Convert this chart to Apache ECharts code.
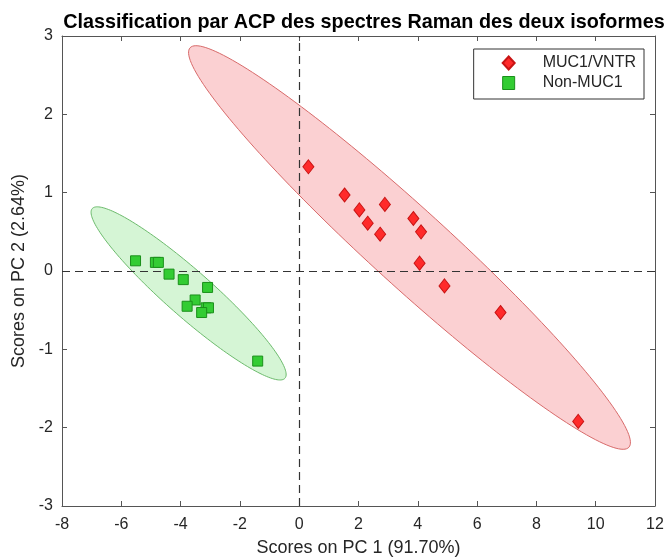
<!DOCTYPE html>
<html><head><meta charset="utf-8">
<script src="https://cdn.jsdelivr.net/npm/echarts@6/dist/echarts.min.js"></script>
<style>html,body{margin:0;padding:0;background:#fff}#c{width:670px;height:557px}</style>
</head><body><div id="c"></div>
<script>
// Data
const mucPoints = [
  [0.31,1.33],[1.53,0.97],[2.03,0.78],[2.89,0.85],[2.31,0.61],[2.73,0.47],
  [3.85,0.67],[4.11,0.50],[4.06,0.10],[4.90,-0.19],[6.79,-0.53],[9.41,-1.92]
];
const nonMucPoints = [
  [-5.52,0.13],[-4.85,0.11],[-4.75,0.11],[-4.39,-0.04],[-3.91,-0.11],[-3.09,-0.21],
  [-3.51,-0.37],[-3.78,-0.45],[-3.14,-0.47],[-3.06,-0.47],[-3.29,-0.53],[-1.40,-1.15]
];
// confidence ellipses: center, major semi-axis vector, minor semi-axis vector (data units)
const mucEllipseCenter = [3.72, 0.30];
const mucEllipseMajor = [7.40, -2.55];
const mucEllipseMinor = [-0.876, -0.366];
const nonMucEllipseCenter = [-3.73, -0.286];
const nonMucEllipseMajor = [3.25, -1.083];
const nonMucEllipseMinor = [-0.512, -0.221];
const xTicks = [-8,-6,-4,-2,0,2,4,6,8,10,12];
const yTicks = [-3,-2,-1,0,1,2,3];

const FONT = 'Liberation Sans, Arial, sans-serif';
const txt = '#262626';
const axisCol = '#555';

function ellipseSeries(center, major, minor, fill, stroke) {
  return {
    type: 'custom', silent: true, z: 1,
    data: [center],
    renderItem: function (params, api) {
      const pts = [];
      const N = 180;
      for (let i = 0; i < N; i++) {
        const t = 2 * Math.PI * i / N;
        const c = Math.cos(t), s = Math.sin(t);
        pts.push(api.coord([center[0] + major[0]*c + minor[0]*s, center[1] + major[1]*c + minor[1]*s]));
      }
      return { type: 'polygon', shape: { points: pts }, style: { fill: fill, stroke: stroke, lineWidth: 1 } };
    }
  };
}

const chart = echarts.init(document.getElementById('c'), null, {renderer: 'canvas'});
const option = {
  animation: false,
  backgroundColor: '#fff',
  title: {
    text: 'Classification par ACP des spectres Raman des deux isoformes',
    left: 359, top: 8, textAlign: 'center',
    textStyle: { fontFamily: FONT, fontSize: 19.8, fontWeight: 'bold', color: '#000' }
  },
  grid: { left: 62, right: 15, top: 36, bottom: 51, show: false, containLabel: false, outerBoundsMode: 'none' },
  legend: {
    orient: 'vertical', right: 26, top: 49,
    backgroundColor: '#fff', borderColor: '#333', borderWidth: 1,
    padding: [6, 8, 8, 28], itemGap: 4,
    itemWidth: 12, itemHeight: 13,
    textStyle: { fontFamily: FONT, fontSize: 16, color: txt, padding: [0, 0, 0, 23] },
    data: [{name: 'MUC1/VNTR', icon: 'diamond', itemStyle:{color:'#ff2a2a'}}, {name: 'Non-MUC1', icon: 'rect', itemStyle:{color:'#33cc33', borderColor:'#1a8f1a', borderWidth:1}}]
  },
  xAxis: [{
    type: 'value', min: -8, max: 12, interval: 2,
    name: 'Scores on PC 1 (91.70%)', nameLocation: 'middle', nameGap: 33,
    nameTextStyle: { fontFamily: FONT, fontSize: 18, color: txt },
    axisLine: { show: true, onZero: false, lineStyle: { color: axisCol } },
    axisTick: { show: true, inside: true, length: 5, lineStyle: { color: axisCol } },
    axisLabel: { fontFamily: FONT, fontSize: 16, color: txt, margin: 11 },
    splitLine: { show: false }
  }, {
    type: 'value', position: 'top', min: -8, max: 12, interval: 2,
    axisLine: { show: true, onZero: false, lineStyle: { color: axisCol } },
    axisTick: { show: true, inside: true, length: 5, lineStyle: { color: axisCol } },
    axisLabel: { show: false }, splitLine: { show: false }
  }],
  yAxis: [{
    type: 'value', min: -3, max: 3, interval: 1,
    name: 'Scores on PC 2 (2.64%)', nameLocation: 'middle', nameGap: 32,
    nameTextStyle: { fontFamily: FONT, fontSize: 18, color: txt },
    axisLine: { show: true, onZero: false, lineStyle: { color: axisCol } },
    axisTick: { show: true, inside: true, length: 5, lineStyle: { color: axisCol } },
    axisLabel: { fontFamily: FONT, fontSize: 16, color: txt, margin: 9 },
    splitLine: { show: false }
  }, {
    type: 'value', position: 'right', min: -3, max: 3, interval: 1,
    axisLine: { show: true, onZero: false, lineStyle: { color: axisCol } },
    axisTick: { show: true, inside: true, length: 5, lineStyle: { color: axisCol } },
    axisLabel: { show: false }, splitLine: { show: false }
  }],
  series: [
    ellipseSeries(mucEllipseCenter, mucEllipseMajor, mucEllipseMinor, 'rgba(250,200,202,0.85)', '#d86a6a'),
    ellipseSeries(nonMucEllipseCenter, nonMucEllipseMajor, nonMucEllipseMinor, 'rgba(208,244,208,0.9)', '#6dbb6d'),
    {
      type: 'line', data: [], z: 3, silent: true,
      markLine: {
        silent: true, symbol: 'none', label: { show: false },
        lineStyle: { color: '#333', type: [8, 5], width: 1.2 },
        data: [{ xAxis: 0 }, { yAxis: 0 }]
      }
    },
    {
      name: 'MUC1/VNTR', type: 'scatter', z: 5, data: mucPoints,
      symbol: 'diamond', symbolSize: [11, 14],
      itemStyle: { color: '#ff2a2a', borderColor: '#c81414', borderWidth: 1, opacity: 1 }
    },
    {
      name: 'Non-MUC1', type: 'scatter', z: 5, data: nonMucPoints,
      symbol: 'rect', symbolSize: 10,
      itemStyle: { color: '#33cc33', borderColor: '#1a8f1a', borderWidth: 1, opacity: 1 }
    }
  ]
};
chart.setOption(option);
</script></body></html>
